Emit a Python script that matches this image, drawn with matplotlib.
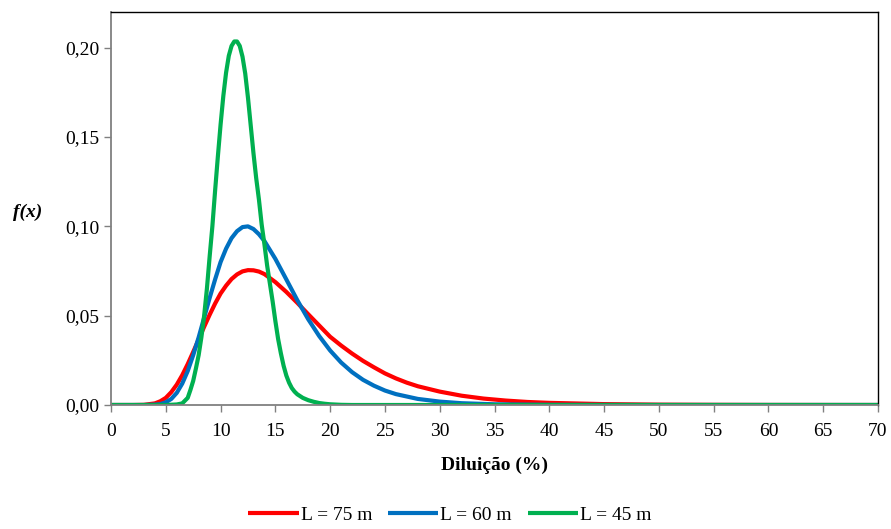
import numpy as np
import matplotlib.pyplot as plt

plt.rcParams['font.family'] = ['Liberation Serif', 'DejaVu Serif']

# values
x_red = [0, 2, 3, 4, 4.5, 5, 5.5, 6, 6.5, 7, 7.5, 8, 8.5, 9, 9.5, 10, 10.5, 11, 11.5, 12,
         12.5, 13, 13.5, 14, 15, 16, 17, 18, 19, 20, 21, 22, 23, 24, 25, 26, 27, 28,
         30, 32, 34, 36, 38, 40, 45, 50, 55, 60, 70]
y_red = [0, 0, 0.0001, 0.0009, 0.0021, 0.0040, 0.0072, 0.0114, 0.0167, 0.0229, 0.0297, 0.0367,
         0.0438, 0.0505, 0.0568, 0.0624, 0.0668, 0.0705, 0.0731, 0.0748,
         0.0755, 0.0754, 0.0747, 0.0733, 0.0688, 0.0633, 0.0572, 0.0508, 0.0445, 0.0382,
         0.0333, 0.0288, 0.0247, 0.0211, 0.0177, 0.0149, 0.0125, 0.0105,
         0.0075, 0.0052, 0.0036, 0.0025, 0.0017, 0.0012, 0.0005, 0.0002, 0.0001, 0.00004, 0]

x_blue = [0, 3, 4, 4.5, 5, 5.5, 6, 6.5, 7, 7.5, 8, 8.5, 9, 9.5, 10, 10.5, 11, 11.5, 12,
          12.5, 13, 13.5, 14, 15, 16, 17, 18, 19, 20, 21, 22, 23, 24, 25, 26, 28, 30,
          32, 35, 40, 45, 50, 60, 70]
y_blue = [0, 0, 0.0002, 0.0005, 0.0015, 0.0034, 0.0068, 0.0120, 0.0190, 0.0279, 0.0379,
          0.0489, 0.0599, 0.0703, 0.0800, 0.0875, 0.0934, 0.0973, 0.0996,
          0.1000, 0.0985, 0.0956, 0.0918, 0.0818, 0.0703, 0.0587, 0.0480, 0.0386, 0.0305,
          0.0238, 0.0184, 0.0141, 0.0108, 0.0081, 0.0061, 0.0034, 0.0019,
          0.0010, 0.0004, 0.0001, 0.00003, 0, 0, 0]

x_green = [0, 5, 6, 6.5, 7, 7.25, 7.5, 7.75, 8, 8.25, 8.5, 8.75, 9, 9.25, 9.5, 9.75, 10,
           10.25, 10.5, 10.75, 11, 11.25, 11.5, 11.75, 12, 12.25, 12.5, 12.75, 13, 13.25,
           13.5, 13.75, 14, 14.25, 14.5, 14.75, 15, 15.25, 15.5, 15.75, 16, 16.25, 16.5,
           16.75, 17, 17.5, 18, 18.5, 19, 19.5, 20, 21, 22, 30, 40, 50, 60, 70]
y_green = [0, 0, 0.0003, 0.0009, 0.0040, 0.0085, 0.0135, 0.0205, 0.0280, 0.0380, 0.0500,
           0.0650, 0.0830, 0.1000, 0.1200, 0.1390, 0.1570, 0.1730, 0.1860, 0.1955, 0.2010,
           0.2035, 0.2035, 0.2010, 0.1950, 0.1855, 0.1720, 0.1565, 0.1410, 0.1270,
           0.1150, 0.1010, 0.0900, 0.0780, 0.0680, 0.0580, 0.0470, 0.0370, 0.0290, 0.0220,
           0.0165, 0.0125, 0.0095, 0.0075, 0.0060, 0.0040, 0.0027, 0.0018, 0.0011, 0.0007,
           0.0004, 0.0001, 0, 0, 0, 0, 0, 0]

y_ticks = [0, 0.05, 0.10, 0.15, 0.20]
y_tick_labels = ['0,00', '0,05', '0,10', '0,15', '0,20']
x_ticks = list(range(0, 71, 5))

fig = plt.figure(figsize=(8.91, 5.29), dpi=100)
ax = fig.add_axes([0.1246, 0.2344, 0.8608, 0.7429])

ax.plot(x_red, y_red, color='#FF0000', lw=3, label='L = 75 m', solid_capstyle='butt')
ax.plot(x_blue, y_blue, color='#0070C0', lw=3, label='L = 60 m', solid_capstyle='butt')
ax.plot(x_green, y_green, color='#00B050', lw=3, label='L = 45 m', solid_capstyle='butt')

ax.set_xlim(0, 70)
ax.set_ylim(0, 0.22)
ax.set_xticks(x_ticks)
ax.set_yticks(y_ticks)
ax.set_yticklabels(y_tick_labels)
ax.tick_params(axis='both', labelsize=14, direction='out', length=5, color='#808080', width=1)
ax.tick_params(axis='x', pad=8)

for s in ['left', 'bottom']:
    ax.spines[s].set_color('#808080')
    ax.spines[s].set_linewidth(1.3)
for s in ['top', 'right']:
    ax.spines[s].set_color('black')
    ax.spines[s].set_linewidth(1)

ax.set_xlabel('Diluição (%)', fontsize=14, fontweight='bold', labelpad=12)
fig.text(0.031, 1 - 212 / 529, 'f(x)', fontsize=14, fontweight='bold', fontstyle='italic',
         ha='center', va='center')

fig.legend(loc='center', bbox_to_anchor=(0.505, 1 - 515 / 529), ncol=3, frameon=False,
           fontsize=14, handlelength=2.6, handletextpad=0.1, columnspacing=0.8)

plt.savefig('out.png', dpi=100)
